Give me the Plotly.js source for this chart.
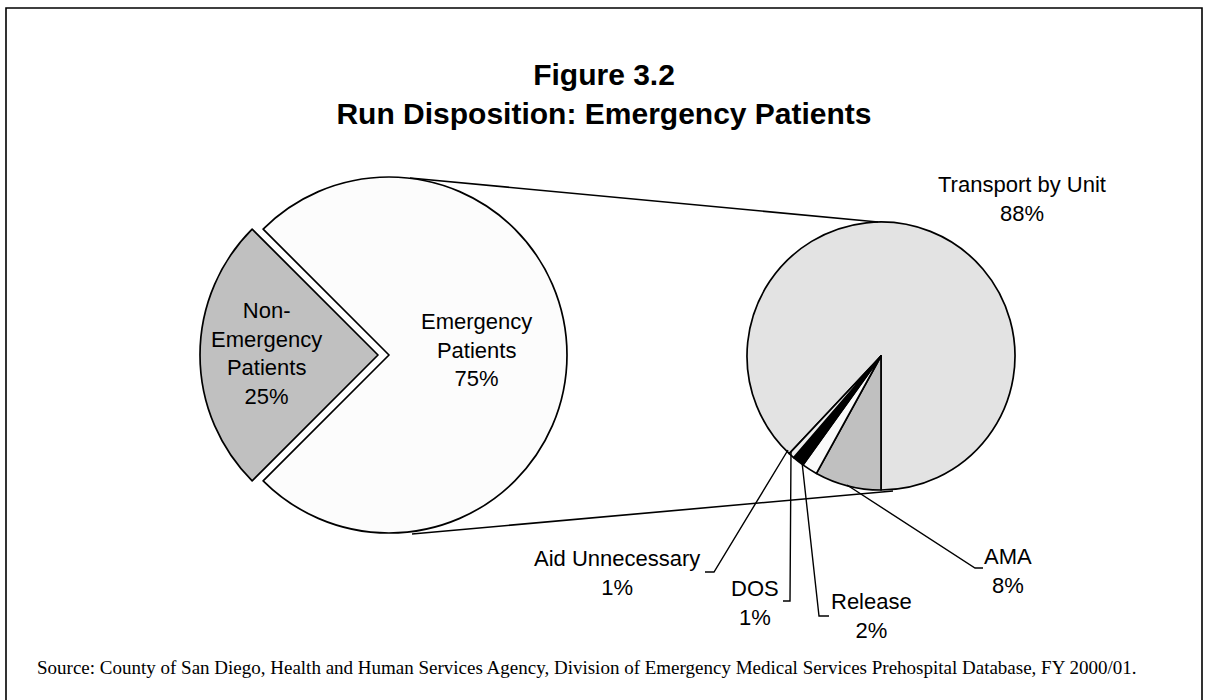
<!DOCTYPE html>
<html>
<head>
<meta charset="utf-8">
<script src="https://cdn.plot.ly/plotly-3.0.1.min.js"></script>
<style>
  html, body { margin: 0; padding: 0; background: #fff; }
  #chart { width: 1217px; height: 700px; }
</style>
</head>
<body>
<div id="chart"></div>
<script>
var mainLabels = ['Non-Emergency Patients', 'Emergency Patients'];
var mainText = ['Non-<br>Emergency<br>Patients', 'Emergency<br>Patients'];
var mainValues = [25, 75];
var mainColors = ['#c0c0c0', '#fcfcfc'];

var subLabels = ['Transport by Unit', 'AMA', 'Release', 'DOS', 'Aid Unnecessary'];
var subValues = [88, 8, 1.9, 1.4, 0.7];
var subColors = ['#e3e3e3', '#c0c0c0', '#fafafa', '#000000', '#eeeeee'];

var W = 1217, H = 700;
// pixel -> paper helpers (margins are zero so paper == page)
function fx(x) { return x / W; }
function fy(y) { return 1 - y / H; }

function sum(a) { return a.reduce(function (s, v) { return s + v; }, 0); }

// big pie: centre 389,355 r 178, grey slice pulled out to the left
var mainPull = 11 / 178;
var mainHalf = 178 * (1 + mainPull);
var mainRot = 270 - 180 * mainValues[0] / sum(mainValues);

// small pie: centre 881,356 r 134, small slices just left of 6 o'clock
var subHalf = 134;
var subRot = 180 + 360 * (sum(subValues) - subValues[0]) / sum(subValues);

var mainPie = {
  type: 'pie',
  labels: mainLabels,
  values: mainValues,
  sort: false,
  direction: 'clockwise',
  rotation: mainRot,
  pull: [mainPull, 0],
  textinfo: 'none',
  hoverinfo: 'label+percent',
  marker: { colors: mainColors, line: { color: '#000', width: 1.7 } },
  domain: { x: [fx(389 - mainHalf), fx(389 + mainHalf)], y: [fy(355 + mainHalf), fy(355 - mainHalf)] }
};

var subPie = {
  type: 'pie',
  labels: subLabels,
  values: subValues,
  sort: false,
  direction: 'clockwise',
  rotation: subRot,
  textinfo: 'none',
  hoverinfo: 'label+percent',
  marker: { colors: subColors, line: { color: '#000', width: 1.7 } },
  domain: { x: [fx(881 - subHalf), fx(881 + subHalf)], y: [fy(356 + subHalf), fy(356 - subHalf)] }
};

function pct(vals, i) { return Math.round(100 * vals[i] / sum(vals)) + '%'; }

var lblFont = { family: 'Liberation Sans, Arial, sans-serif', size: 22, color: '#000' };

function note(text, x, y) {
  return { text: text, x: fx(x), y: fy(y), xref: 'paper', yref: 'paper',
           xanchor: 'center', yanchor: 'middle', align: 'center', showarrow: false, font: lblFont };
}

var annotations = [
  note(mainText[0] + '<br>' + pct(mainValues, 0), 266, 354),
  note(mainText[1] + '<br>' + pct(mainValues, 1), 476, 350),
  note(subLabels[0] + '<br>' + pct(subValues, 0), 1022, 199),
  note(subLabels[1] + '<br>' + pct(subValues, 1), 1008, 571),
  note(subLabels[2] + '<br>' + pct(subValues, 2), 871, 616),
  note(subLabels[3] + '<br>' + pct(subValues, 3), 755, 603),
  note(subLabels[4] + '<br>' + pct(subValues, 4), 617, 573),
  { text: 'Source: County of San Diego, Health and Human Services Agency, Division of Emergency Medical Services Prehospital Database, FY 2000/01.',
    x: fx(35), y: fy(667), xref: 'paper', yref: 'paper', xanchor: 'left', yanchor: 'middle',
    showarrow: false, font: { family: 'Liberation Serif, Times New Roman, serif', size: 19, color: '#000' } }
];

function path(pts) {
  return pts.map(function (p, i) { return (i ? 'L' : 'M') + fx(p[0]) + ',' + fy(p[1]); }).join(' ');
}

function line(pts, w) {
  return { type: 'path', xref: 'paper', yref: 'paper', path: path(pts),
           line: { color: '#000', width: w || 1.6 } };
}

var shapes = [
  // frame
  line([[6, 700], [6, 8], [1202, 8], [1202, 700]], 1.6),
  // connectors between the pies
  line([[410, 178], [878, 222]]),
  line([[412, 534], [893, 491]]),
  // leader lines
  line([[983, 568], [975, 568], [847, 485]], 1.4),
  line([[829, 616], [819, 616], [802, 462]], 1.4),
  line([[783, 601], [790, 601], [791, 452]], 1.4),
  line([[705, 572], [714, 572], [788, 450]], 1.4)
];

var layout = {
  width: W,
  height: H,
  margin: { l: 0, r: 0, t: 0, b: 0 },
  paper_bgcolor: '#fff',
  showlegend: false,
  title: {
    text: 'Figure 3.2<br>Run Disposition: Emergency Patients',
    font: { family: 'Liberation Sans, Arial, sans-serif', size: 30, color: '#000', weight: 'bold' },
    x: fx(604), xanchor: 'center',
    y: fy(85), yanchor: 'middle', yref: 'container'
  },
  annotations: annotations,
  shapes: shapes
};

Plotly.newPlot('chart', [mainPie, subPie], layout, { displayModeBar: false, staticPlot: true });
</script>
</body>
</html>
